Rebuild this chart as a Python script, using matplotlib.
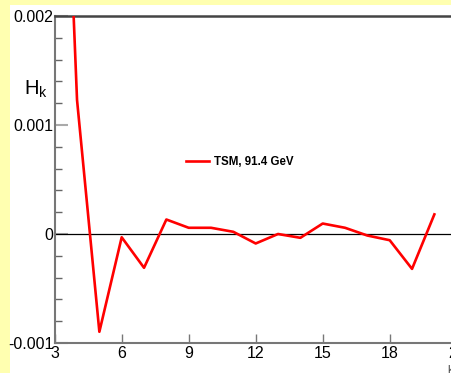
import numpy as np
import matplotlib.pyplot as plt
from matplotlib.patches import Rectangle
from matplotlib.ticker import MultipleLocator

plt.rcParams['font.family'] = ['Liberation Sans', 'DejaVu Sans']

# Momentos H_k para TSM a 91.4 GeV
k = [3, 4, 5, 6, 7, 8, 9, 10, 11, 12, 13, 14, 15, 16, 17, 18, 19, 20]
H_k = [0.0063, 0.00123, -0.000897, -0.00003, -0.00031, 0.000133, 0.000057,
       0.000057, 0.00002, -0.000087, 0.0, -0.000035, 0.000096, 0.000057,
       -0.000014, -0.000057, -0.00032, 0.00018]
x_ticks = [3, 6, 9, 12, 15, 18, 21]
y_ticks = [-0.001, 0, 0.001, 0.002]
y_labels = ['-0.001', '0', '0.001', '0.002']

W, H = 452, 373
fig = plt.figure(figsize=(W / 100, H / 100), dpi=100)
fig.patch.set_facecolor('#ffffb0')
# zona blanca detras del grafico
fig.patches.append(Rectangle((10 / W, 0), 1, 1 - 5 / H, transform=fig.transFigure,
                             facecolor='white', edgecolor='none', zorder=-10))

ax = fig.add_axes([54.7 / W, 30 / H, 402 / W, 327 / H])
ax.set_facecolor('white')

ax.plot(k, H_k, color='red', lw=1.9, label='TSM, 91.4 GeV', zorder=3)
ax.axhline(0, color='black', lw=0.9, zorder=2)

ax.set_xlim(3, 21)
ax.set_ylim(-0.001, 0.002)
ax.set_xticks(x_ticks)
ax.set_yticks(y_ticks)
ax.set_yticklabels(y_labels)
ax.yaxis.set_minor_locator(MultipleLocator(0.0002))

ax.tick_params(axis='x', which='major', direction='in', length=6.5, width=1,
               color='#777777', labelsize=11.5, pad=2)
ax.tick_params(axis='y', which='major', direction='in', length=9.5, width=1.5,
               color='#aaaaaa', labelsize=11.5, pad=1)
ax.tick_params(axis='y', which='minor', direction='in', length=5, width=1,
               color='#666666')

for s in ['left', 'bottom']:
    ax.spines[s].set_color('#777777')
    ax.spines[s].set_linewidth(1.5)
ax.spines['top'].set_color('#444444')
ax.spines['top'].set_linewidth(1.8)
ax.spines['right'].set_visible(False)

fig.text(24 / W, 1 - 95 / H, r'$\mathregular{H_k}$', fontsize=14.5, ha='left',
         va='baseline')
fig.text(447 / W, 1 - 373 / H, 'k', fontsize=8, ha='left', va='baseline',
         color='#444444')

ax.legend(loc='center left', bbox_to_anchor=(186 / W, 1 - 162 / H),
          bbox_transform=fig.transFigure, frameon=False, borderpad=0,
          borderaxespad=0, handlelength=2.0, handletextpad=0.45,
          prop={'weight': 'bold', 'size': 8.3})

fig.savefig('out.png', dpi=100, facecolor=fig.get_facecolor())
